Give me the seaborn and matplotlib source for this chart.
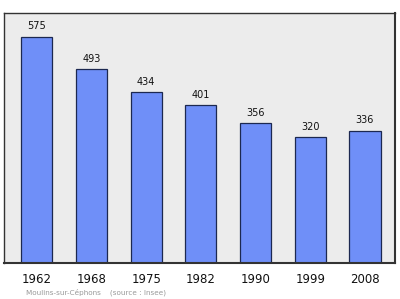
import matplotlib
matplotlib.use("Agg")
import matplotlib.pyplot as plt
import seaborn as sns
import pandas as pd

years = ["1962", "1968", "1975", "1982", "1990", "1999", "2008"]
population = [575, 493, 434, 401, 356, 320, 336]

df = pd.DataFrame({"year": years, "pop": population})

sns.set_style("white")
fig = plt.figure(figsize=(4.0, 2.99), dpi=100)
ax = fig.add_axes([4/400, 1 - 263/299, 391/400, 250/299])
ax.set_facecolor("#ececec")
sns.barplot(data=df, x="year", y="pop", ax=ax, color="#6f8ff8", width=0.57,
            edgecolor="#1c2850", linewidth=0.9, saturation=1)
ax.set_xlim(-0.6, 6.55)
ax.set_ylim(0, 636)
for i, v in enumerate(population):
    ax.text(i, v + 14, str(v), ha="center", va="bottom", fontsize=7, color="#111111")
ax.set_yticks([])
ax.set_xlabel("")
ax.set_ylabel("")
ax.tick_params(axis="x", length=0, pad=7, labelsize=8.5, colors="#111111")
for s in ax.spines.values():
    s.set_visible(True)
    s.set_color("#333333")
    s.set_linewidth(1.0)
ax.spines["right"].set_linewidth(1.5)
ax.spines["bottom"].set_linewidth(1.5)
fig.text(26/400, 1 - 292/299, "Moulins-sur-Céphons    (source : Insee)", fontsize=5.2,
         color="#999999", va="center", ha="left")
fig.savefig("out.png", dpi=100)
